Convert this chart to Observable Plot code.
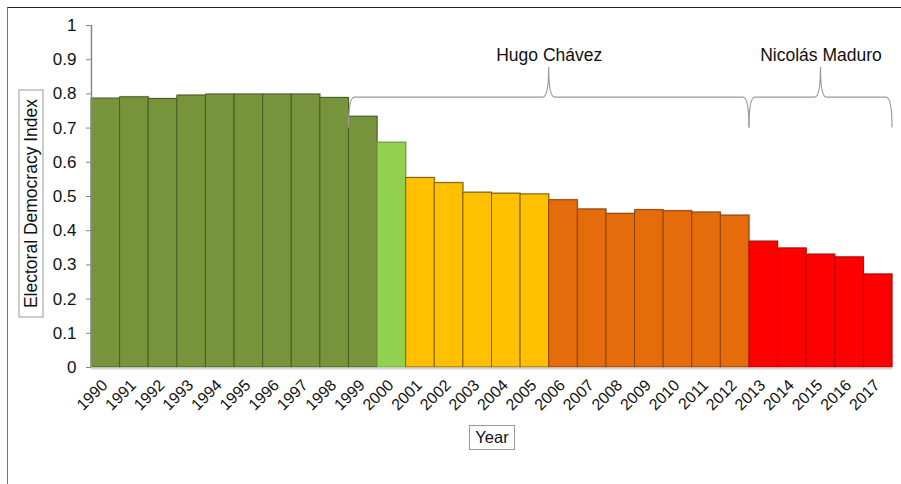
<!DOCTYPE html>
<html><head><meta charset="utf-8">
<script src="https://cdn.jsdelivr.net/npm/d3@7"></script>
<script src="https://cdn.jsdelivr.net/npm/@observablehq/plot@0.6"></script>
<style>
html,body{margin:0;padding:0;background:#fff;overflow:hidden;}
#wrap{position:relative;width:901px;height:484px;font-family:"Liberation Sans",Arial,sans-serif;color:#111;}
#frame{position:absolute;left:7px;top:7px;width:1000px;height:1000px;border-left:1.4px solid #777;border-top:1.4px solid #222;pointer-events:none;}
#chart{position:absolute;left:0;top:0;}
.box{position:absolute;border:1px solid #999;background:#fff;box-sizing:border-box;text-align:center;white-space:nowrap;}
#ytitle{left:-83.5px;top:191px;width:228px;height:25px;line-height:23px;font-size:17.5px;transform:rotate(-90deg);transform-origin:50% 50%;}
#xtitle{left:469px;top:425px;width:46px;height:25px;line-height:23px;font-size:16.5px;}
</style>
</head><body>
<div id="wrap">
  <div id="chart"></div>
  <div id="frame"></div>
  <div class="box" id="ytitle">Electoral Democracy Index</div>
  <div class="box" id="xtitle">Year</div>
</div>
<script>
const years = [1990,1991,1992,1993,1994,1995,1996,1997,1998,1999,2000,2001,2002,2003,2004,2005,2006,2007,2008,2009,2010,2011,2012,2013,2014,2015,2016,2017];
const edi   = [0.786,0.790,0.785,0.795,0.798,0.798,0.798,0.798,0.788,0.733,0.657,0.554,0.539,0.511,0.508,0.506,0.489,0.462,0.449,0.460,0.457,0.453,0.444,0.368,0.348,0.330,0.322,0.272];
const period = ["A","A","A","A","A","A","A","A","A","A","B","C","C","C","C","C","D","D","D","D","D","D","D","E","E","E","E","E"];
const fillOf   = {A:"#77933C", B:"#92D050", C:"#FFC000", D:"#E46C0A", E:"#FF0000"};
const strokeOf = {A:"#4A5E22", B:"#6FA033", C:"#7F6000", D:"#8E4306", E:"#B80000"};
const yTicks = [0,0.1,0.2,0.3,0.4,0.5,0.6,0.7,0.8,0.9,1];
const presidents = ["Hugo Chávez","Nicolás Maduro"];
const termStart  = [1999, 2013];
const termEnd    = [2012, 2017];
// annotation levels (in index units)
const braceFoot = 0.70, braceLine = 0.789, bracePeak = 0.877, labelLevel = 0.914;

const data = years.map((y, i) => ({year: y, value: edi[i], period: period[i]}));
const terms = presidents.map((n, i) => ({name: n, start: termStart[i], end: termEnd[i], mid: (termStart[i] - 0.5 + termEnd[i] + 0.5) / 2}));

function braces(index, scales) {
  const {x, y} = scales;
  const g = d3.create("svg:g");
  const yb = y(braceFoot), yl = y(braceLine), yp = y(bracePeak);
  for (const t of terms) {
    const x0 = x(t.start - 0.5), x1 = x(t.end + 0.5), xm = x(t.mid);
    const r = 6;
    const p = d3.path();
    p.moveTo(x0, yb);
    p.quadraticCurveTo(x0, yl, x0 + r, yl);
    p.lineTo(xm - r, yl);
    p.quadraticCurveTo(xm, yl, xm, yp);
    p.quadraticCurveTo(xm, yl, xm + r, yl);
    p.lineTo(x1 - r, yl);
    p.quadraticCurveTo(x1, yl, x1, yb);
    g.append("path").attr("d", p.toString()).attr("fill", "none").attr("stroke", "#9a9a9a").attr("stroke-width", 1.2);
  }
  return g.node();
}

const chart = Plot.plot({
  width: 901, height: 484,
  marginLeft: 91, marginRight: 9, marginTop: 25, marginBottom: 117,
  style: {fontFamily: '"Liberation Sans", Arial, sans-serif', background: "transparent", color: "#111"},
  x: {domain: [1989.5, 2017.5], axis: null},
  y: {domain: [0, 1], axis: null},
  color: {type: "identity"},
  marks: [
    Plot.rectY(data, {x1: d => d.year - 0.5, x2: d => d.year + 0.5, y: "value", fill: "#c4c4c4", dx: 1, dy: -1}),
    Plot.rectY(data, {x1: d => d.year - 0.5, x2: d => d.year + 0.5, y: "value", fill: d => fillOf[d.period], stroke: d => strokeOf[d.period], strokeWidth: 1}),
    Plot.ruleY([0], {stroke: "#d4d4d4", strokeWidth: 2, dy: 1}),
    Plot.ruleX([1989.5], {stroke: "#888", strokeWidth: 1.5}),
    Plot.axisY({ticks: yTicks, tickSize: 5, tickPadding: 10, stroke: "#888", fill: "#111", fontSize: 17, label: null, tickFormat: d => String(+d.toFixed(1))}),
    Plot.text(years, {x: d => d, y: 0, text: d => String(d), rotate: -45, textAnchor: "end", fontSize: 16, dx: -1, dy: 15, fill: "#111"}),
    braces,
    Plot.text(terms, {x: "mid", y: labelLevel, text: "name", fontSize: 17.5, fill: "#111"})
  ]
});
document.getElementById("chart").appendChild(chart);
</script>
</body></html>
